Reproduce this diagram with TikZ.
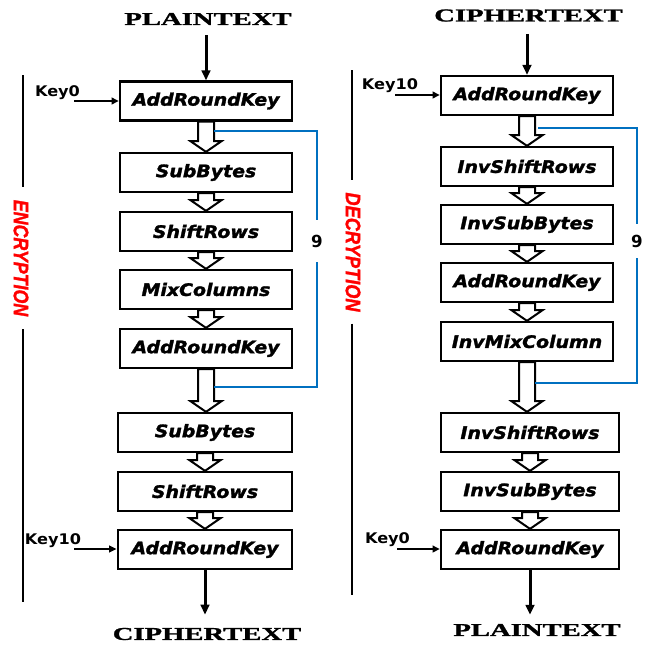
\documentclass[tikz,border=0pt]{standalone}
\usepackage{fontspec}
\usetikzlibrary{arrows.meta,calc}
\newfontfamily\boxfont{DejaVu Sans}[BoldItalicFeatures={FakeBold=1.6}]
\newfontfamily\keyfont{DejaVu Sans}
\newfontfamily\ttlfont{Liberation Serif}[BoldFeatures={FakeBold=1.2}]
\newfontfamily\sidefont{Liberation Sans}[BoldItalicFeatures={FakeBold=1.5}]
\definecolor{loopblue}{RGB}{0,112,192}
\newcommand{\bx}[1]{\scalebox{1.1}[1]{#1}}
\newcommand{\ttl}[1]{\scalebox{1.58}[1]{#1}}
\newcommand{\harrow}[2]{\draw[hol] let \p1=(#1.south), \p2=(#2.north) in
  (\x1-6pt,\y1) -- (\x1-6pt,\y2+8pt) -- (\x1-11.6pt,\y2+8pt) -- (\x1,\y2)
  -- (\x1+11.6pt,\y2+8pt) -- (\x1+6pt,\y2+8pt) -- (\x1+6pt,\y1) -- cycle;}
\begin{document}
\begin{tikzpicture}[x=0.75pt,y=-0.75pt]
\tikzstyle{blk}=[draw, line width=1.7pt, minimum width=129pt, minimum height=29.25pt, inner sep=0pt, font=\fontsize{12.9}{14}\selectfont\boxfont\bfseries\itshape]
\tikzstyle{wide}=[minimum width=133.5pt]
\tikzstyle{hol}=[draw, fill=white, line width=1.5pt, line join=miter]
\tikzstyle{thk}=[line width=2.25pt, -{Triangle[length=7.5pt,width=6.5pt]}]
\tikzstyle{karr}=[line width=1.8pt, -{Triangle[length=5.5pt,width=5pt]}]
\tikzstyle{ttlnode}=[font=\fontsize{13.6}{15}\selectfont\ttlfont\bfseries]
\tikzstyle{keynode}=[font=\fontsize{11}{12}\selectfont\keyfont\bfseries, inner sep=0pt]
\tikzstyle{side}=[line width=1.6pt]
\tikzstyle{sidetext}=[rotate=-90, text=red, inner sep=0pt, font=\fontsize{15.7}{17}\selectfont\sidefont\bfseries\itshape]
\tikzstyle{loop}=[draw=loopblue, line width=1.6pt]
\tikzstyle{nine}=[font=\fontsize{12.5}{14}\selectfont\keyfont\bfseries, inner sep=0pt]
\useasboundingbox (0,0) rectangle (653,646);

% encryption
\draw (208,19) node (ptop) [ttlnode, inner sep=7.5pt] {\ttl{PLAINTEXT}};
\draw (206,101) node (ark1) [blk] {\bx{AddRoundKey}};
\draw (206,172.5) node (sb1) [blk] {\bx{SubBytes}};
\draw (206,231.5) node (sr1) [blk] {\bx{ShiftRows}};
\draw (206,289.5) node (mc) [blk] {\bx{MixColumns}};
\draw (206,348.5) node (ark2) [blk] {\bx{AddRoundKey}};
\draw (205,432.5) node (sb2) [blk, minimum width=131pt] {\bx{SubBytes}};
\draw (205,491.5) node (sr2) [blk, minimum width=131pt] {\bx{ShiftRows}};
\draw (205,549.5) node (ark3) [blk, minimum width=131pt] {\bx{AddRoundKey}};
\draw (207,634) node (cbot) [ttlnode, inner sep=9.75pt] {\ttl{CIPHERTEXT}};
\draw (57.5,93) node (key0) [keynode] {\scalebox{1.1}[1]{Key0}};
\draw (53,540.5) node (key10) [keynode] {\scalebox{1.1}[1]{Key10}};
\coordinate (k0) at (74,101);
\coordinate (k10) at (74,549);
\draw (317,241) node (n9a) [nine, minimum height=31.5pt] {9};
\draw (21,258) node (enc) [sidetext, outer sep=9.75pt] {\scalebox{0.85}[1]{ENCRYPTION}};
\coordinate (et) at (23,75);
\coordinate (eb) at (23,602);

\draw[thk] (ark1.north |- ptop.south) -- (ark1.north);
\draw[thk] (ark3.south) -- (ark3.south |- cbot.north);
\draw[karr] (k0) -- (k0 -| ark1.west);
\draw[karr] (k10) -- (k10 -| ark3.west);
\foreach \a/\b in {ark1/sb1, sb1/sr1, sr1/mc, mc/ark2, ark2/sb2, sb2/sr2, sr2/ark3}
  \harrow{\a}{\b};
\draw[loop] ([shift={(8,9)}]ark1.south) -| (n9a.north);
\draw[loop] (n9a.south) |- ([shift={(8,18)}]ark2.south);
\draw[side] (et) -- (et |- enc.west);
\draw[side] (eb |- enc.east) -- (eb);

% decryption
\draw (528.5,15.5) node (ctop) [ttlnode, inner sep=9pt] {\ttl{CIPHERTEXT}};
\draw (527,95.5) node (dark1) [blk] {\bx{AddRoundKey}};
\draw (527,166.5) node (isr1) [blk] {\bx{InvShiftRows}};
\draw (527,224.5) node (isb1) [blk] {\bx{InvSubBytes}};
\draw (527,282.5) node (dark2) [blk] {\bx{AddRoundKey}};
\draw (527,341.5) node (imc) [blk] {\bx{InvMixColumn}};
\draw (530,432.5) node (isr2) [blk, wide] {\bx{InvShiftRows}};
\draw (530,491.5) node (isb2) [blk, wide] {\bx{InvSubBytes}};
\draw (530,549.5) node (dark3) [blk, wide] {\bx{AddRoundKey}};
\draw (537,630) node (pbot) [ttlnode, inner sep=6.75pt] {\ttl{PLAINTEXT}};
\draw (390,86) node (dkey10) [keynode] {\scalebox{1.1}[1]{Key10}};
\draw (387.5,540) node (dkey0) [keynode] {\scalebox{1.1}[1]{Key0}};
\coordinate (dk10) at (395,95);
\coordinate (dk0) at (397,549);
\draw (637,241) node (n9b) [nine, minimum height=25.5pt] {9};
\draw (353,252) node (dec) [sidetext, outer sep=9pt] {\scalebox{0.87}[1]{DECRYPTION}};
\coordinate (dt) at (352,70);
\coordinate (db) at (352,595);

\draw[thk] (dark1.north |- ctop.south) -- (dark1.north);
\draw[thk] (dark3.south) -- (dark3.south |- pbot.north);
\draw[karr] (dk10) -- (dk10 -| dark1.west);
\draw[karr] (dk0) -- (dk0 -| dark3.west);
\foreach \a/\b in {dark1/isr1, isr1/isb1, isb1/dark2, dark2/imc, imc/isr2, isr2/isb2, isb2/dark3}
  \harrow{\a}{\b};
\draw[loop] ([shift={(11,12)}]dark1.south) -| (n9b.north);
\draw[loop] (n9b.south) |- ([shift={(8,21)}]imc.south);
\draw[side] (dt) -- (dt |- dec.west);
\draw[side] (db |- dec.east) -- (db);
\end{tikzpicture}
\end{document}
